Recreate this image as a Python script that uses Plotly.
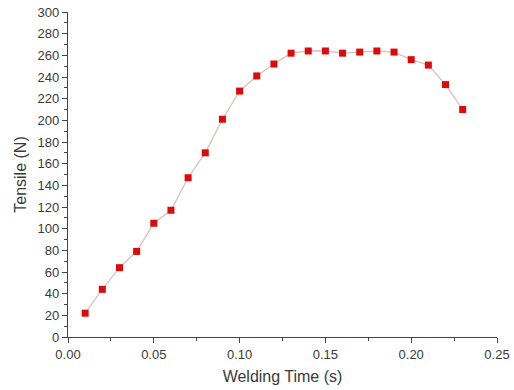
import plotly.graph_objects as go

welding_time = [0.01, 0.02, 0.03, 0.04, 0.05, 0.06, 0.07, 0.08, 0.09, 0.10, 0.11, 0.12,
                0.13, 0.14, 0.15, 0.16, 0.17, 0.18, 0.19, 0.20, 0.21, 0.22, 0.23]
tensile = [22, 44, 64, 79, 105, 117, 147, 170, 201, 227, 241, 252,
           262, 264, 264, 262, 263, 264, 263, 256, 251, 233, 210]

x_ticks = [0.00, 0.05, 0.10, 0.15, 0.20, 0.25]
x_tick_labels = ["0.00", "0.05", "0.10", "0.15", "0.20", "0.25"]
y_ticks = list(range(0, 301, 20))

fig = go.Figure()
fig.add_trace(go.Scatter(
    x=welding_time, y=tensile, mode="lines+markers",
    line=dict(color="#d8c0c0", width=1.3),
    marker=dict(symbol="square", size=7, color="#dd0a0a",
                line=dict(width=0)),
    showlegend=False,
    cliponaxis=False,
))

font_col = "#3a3a3a"
fig.update_layout(
    width=514, height=390,
    margin=dict(l=68, r=17, t=12, b=53),
    paper_bgcolor="white", plot_bgcolor="white",
    font=dict(family="Liberation Sans, Arial, sans-serif", size=13, color=font_col),
)
fig.update_xaxes(
    range=[0, 0.25], tickvals=x_ticks, ticktext=x_tick_labels, automargin=False,
    showgrid=False, zeroline=False, showline=True, linecolor="#444", linewidth=1.2,
    ticks="outside", ticklen=5, tickcolor="#444", tickwidth=1.2,
    minor=dict(dtick=0.025, ticks="outside", ticklen=3, tickcolor="#444", tickwidth=1),
    tickfont=dict(size=13, color=font_col),
    title=dict(text="Welding Time (s)", font=dict(size=16, color=font_col), standoff=10),
)
fig.update_yaxes(
    range=[0, 300], tickvals=y_ticks, automargin=False,
    showgrid=False, zeroline=False, showline=True, linecolor="#444", linewidth=1.2,
    ticks="outside", ticklen=5, tickcolor="#444", tickwidth=1.2,
    minor=dict(dtick=10, ticks="outside", ticklen=3, tickcolor="#444", tickwidth=1),
    tickfont=dict(size=13, color=font_col),
    title=dict(text="Tensile (N)", font=dict(size=16, color=font_col), standoff=6),
)

fig.write_html("out.html", config={"displayModeBar": False},
               post_script="document.body.style.margin='0';document.body.style.overflow='hidden';")
